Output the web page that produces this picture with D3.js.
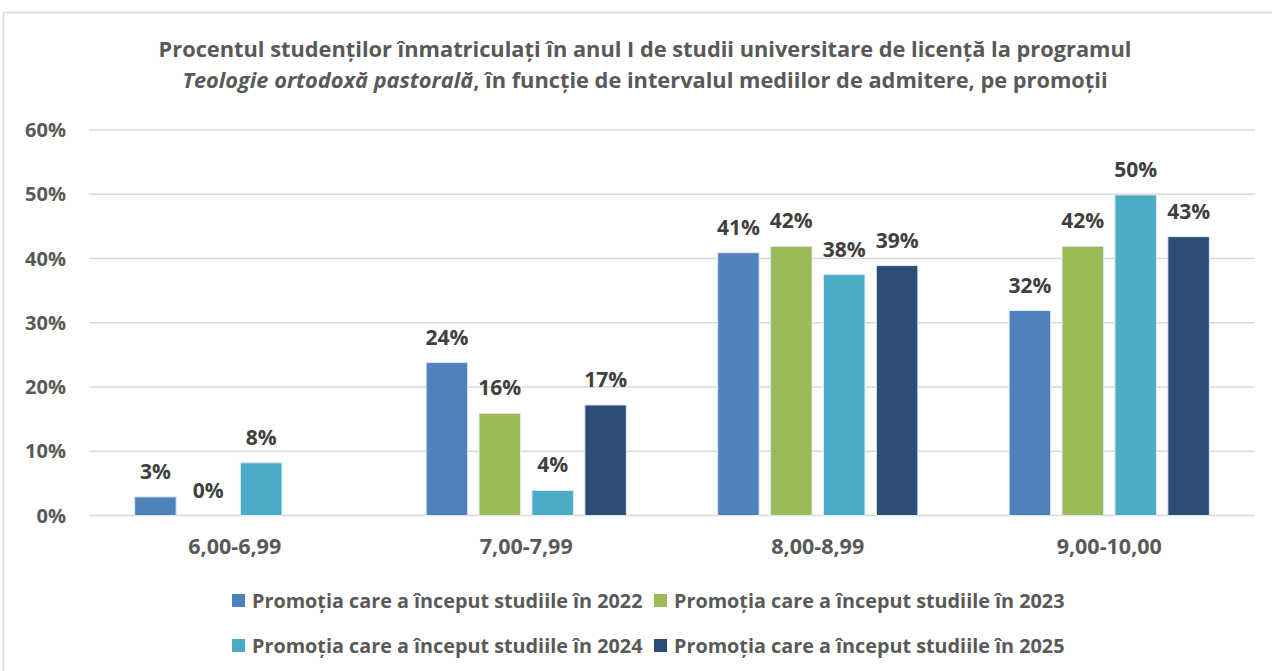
<!DOCTYPE html>
<html>
<head>
<meta charset="utf-8">
<script src="https://cdn.jsdelivr.net/npm/d3@7"></script>
<style>
  html, body { margin: 0; padding: 0; background: #fff; }
  svg { display: block; font-family: "Open Sans", "Noto Sans", sans-serif; font-weight: 700; }
</style>
</head>
<body>
<div id="chart"></div>
<script>
// date
const categories = ["6,00-6,99", "7,00-7,99", "8,00-8,99", "9,00-10,00"];
const seriesNames = [
    "Promoția care a început studiile în 2022",
    "Promoția care a început studiile în 2023",
    "Promoția care a început studiile în 2024",
    "Promoția care a început studiile în 2025"
];
const values2022 = [2.9, 23.8, 40.9, 31.9];
const values2023 = [0, 15.9, 41.9, 41.9];
const values2024 = [8.2, 3.9, 37.5, 49.9];
const values2025 = [null, 17.2, 38.9, 43.4];
const yTicks = [0, 10, 20, 30, 40, 50, 60];
const colors = ["#4f81bd", "#9bbb59", "#4bacc6", "#2c4d75"];

const allValues = [values2022, values2023, values2024, values2025];

const width = 1272, height = 671;
const plot = { left: 89, right: 1255, top: 130, bottom: 515.5 };

const svg = d3.select("#chart").append("svg")
    .attr("width", width)
    .attr("height", height);

// rama graficului
svg.append("rect")
    .attr("x", 3.5).attr("y", 12.5)
    .attr("width", width + 20).attr("height", height + 20)
    .attr("fill", "#fff")
    .attr("stroke", "#d9d9d9")
    .attr("stroke-width", 1.5);

// titlu
const title = svg.append("text")
    .attr("text-anchor", "middle")
    .attr("fill", "#595959")
    .attr("font-size", "21.8px");
title.append("tspan")
    .attr("x", 645).attr("y", 57)
    .text("Procentul studenților înmatriculați în anul I de studii universitare de licență la programul");
const t2 = title.append("tspan")
    .attr("x", 645).attr("y", 88);
t2.append("tspan").attr("font-style", "italic").text("Teologie ortodoxă pastorală");
t2.append("tspan").text(", în funcție de intervalul mediilor de admitere, pe promoții");

const x0 = d3.scaleBand()
    .domain(categories)
    .range([plot.left, plot.right])
    .padding(0);

const x1 = d3.scaleBand()
    .domain(d3.range(seriesNames.length))
    .range([0, x0.bandwidth()])
    .paddingInner(0.2155)
    .paddingOuter(0.863);

const y = d3.scaleLinear()
    .domain([0, 60])
    .range([plot.bottom, plot.top]);

// grid orizontal
svg.append("g")
    .selectAll("line")
    .data(yTicks)
    .join("line")
    .attr("x1", plot.left).attr("x2", plot.right)
    .attr("y1", d => y(d)).attr("y2", d => y(d))
    .attr("stroke", "#d9d9d9")
    .attr("stroke-width", 1.5);

// etichete axa Y
svg.append("g")
    .selectAll("text")
    .data(yTicks)
    .join("text")
    .attr("x", 66)
    .attr("y", d => y(d) + 7)
    .attr("text-anchor", "end")
    .attr("fill", "#595959")
    .attr("font-size", "20px")
    .text(d => d + "%");

// bare
const bars = [];
allValues.forEach((vals, s) => {
    vals.forEach((v, i) => {
        if (v === null) return;
        bars.push({ s, cat: categories[i], value: v });
    });
});

svg.append("g")
    .selectAll("rect")
    .data(bars)
    .join("rect")
    .attr("x", d => x0(d.cat) + x1(d.s))
    .attr("y", d => y(d.value))
    .attr("width", x1.bandwidth())
    .attr("height", d => y(0) - y(d.value))
    .attr("fill", d => colors[d.s])
    .attr("stroke", "#dfe8f2")
    .attr("stroke-width", 1);

// etichete valori
svg.append("g")
    .selectAll("text")
    .data(bars)
    .join("text")
    .attr("x", d => x0(d.cat) + x1(d.s) + x1.bandwidth() / 2)
    .attr("y", d => y(d.value) - 18)
    .attr("text-anchor", "middle")
    .attr("fill", "#404040")
    .attr("font-size", "21px")
    .text(d => Math.round(d.value) + "%");

// etichete categorii
svg.append("g")
    .selectAll("text")
    .data(categories)
    .join("text")
    .attr("x", d => x0(d) + x0.bandwidth() / 2)
    .attr("y", 554)
    .attr("text-anchor", "middle")
    .attr("fill", "#595959")
    .attr("font-size", "21.5px")
    .text(d => d);

// legenda (2 randuri x 2 coloane)
const legendPos = [
    { x: 232, y: 594 }, { x: 654, y: 594 },
    { x: 232, y: 639 }, { x: 654, y: 639 }
];
const legend = svg.append("g")
    .selectAll("g")
    .data(seriesNames)
    .join("g")
    .attr("transform", (d, i) => `translate(${legendPos[i].x},${legendPos[i].y})`);

legend.append("rect")
    .attr("width", 13).attr("height", 13)
    .attr("fill", (d, i) => colors[i]);

legend.append("text")
    .attr("x", 20)
    .attr("y", 13.5)
    .attr("fill", "#595959")
    .attr("font-size", "19.8px")
    .text(d => d);
</script>
</body>
</html>
